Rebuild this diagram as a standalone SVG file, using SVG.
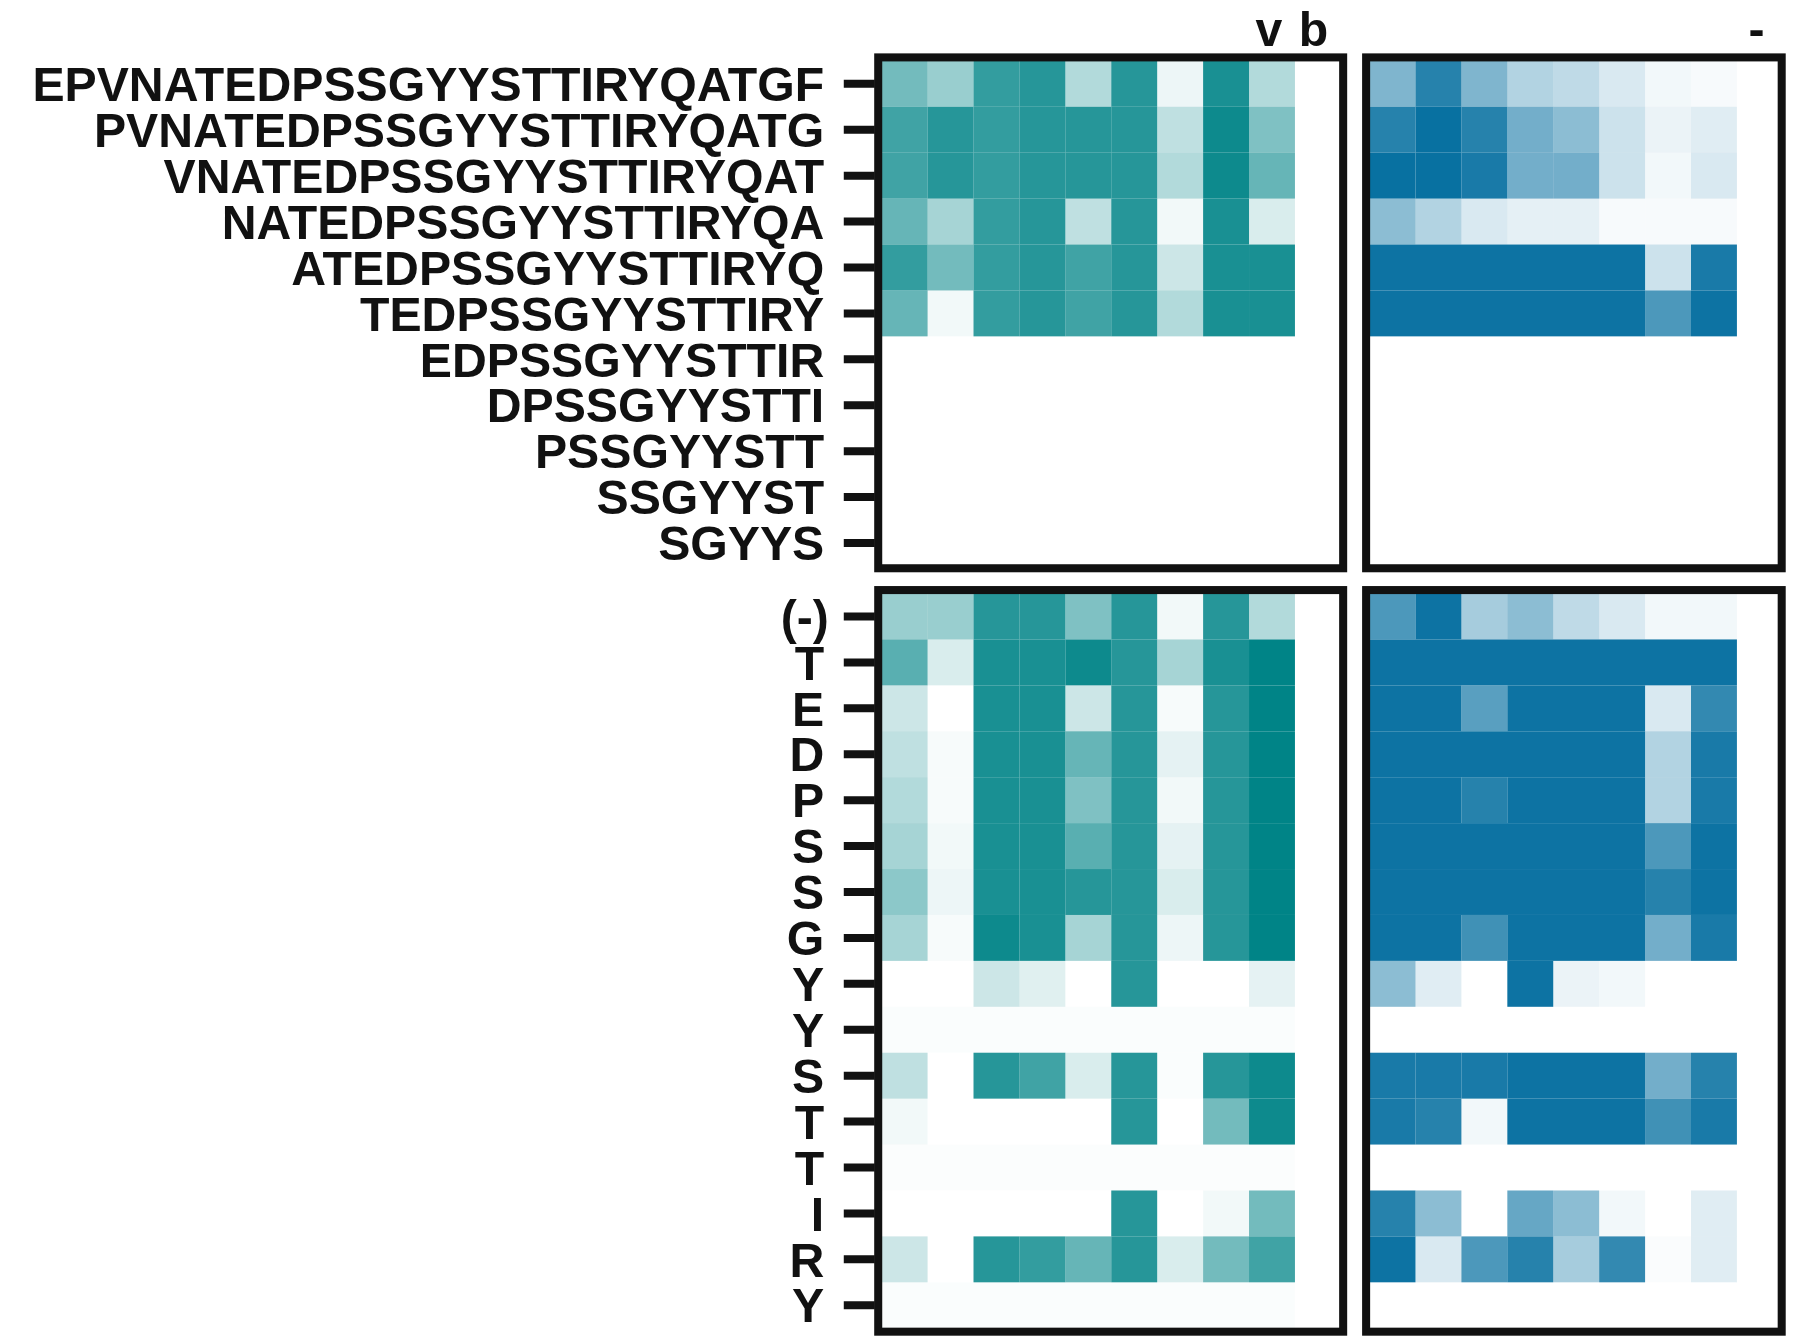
<svg xmlns="http://www.w3.org/2000/svg" width="1800" height="1344" viewBox="0 0 1800 1344">
<style>
.l{font-family:"Liberation Sans",Arial,sans-serif;font-weight:bold;font-size:42px;text-anchor:end;fill:#111}
.t{fill:#008487}.b{fill:#006c9e}
.box{fill:none;stroke:#111;stroke-width:7}
.tk{stroke:#111;stroke-width:7}
</style>
<rect width="1800" height="1344" fill="#fff"/>
<g transform="scale(1.148)">
<g id="tl">
<g class="t">
<rect x="768" y="53" width="40" height="40" fill-opacity=".55"/><rect x="808" y="53" width="40" height="40" fill-opacity=".4"/><rect x="848" y="53" width="40" height="40" fill-opacity=".8"/><rect x="888" y="53" width="40" height="40" fill-opacity=".85"/><rect x="928" y="53" width="40" height="40" fill-opacity=".3"/><rect x="968" y="53" width="40" height="40" fill-opacity=".85"/><rect x="1008" y="53" width="40" height="40" fill-opacity=".07"/><rect x="1048" y="53" width="40" height="40" fill-opacity=".9"/><rect x="1088" y="53" width="40" height="40" fill-opacity=".3"/>
<rect x="768" y="93" width="40" height="40" fill-opacity=".75"/><rect x="808" y="93" width="40" height="40" fill-opacity=".85"/><rect x="848" y="93" width="40" height="40" fill-opacity=".8"/><rect x="888" y="93" width="40" height="40" fill-opacity=".85"/><rect x="928" y="93" width="40" height="40" fill-opacity=".85"/><rect x="968" y="93" width="40" height="40" fill-opacity=".85"/><rect x="1008" y="93" width="40" height="40" fill-opacity=".25"/><rect x="1048" y="93" width="40" height="40" fill-opacity=".95"/><rect x="1088" y="93" width="40" height="40" fill-opacity=".5"/>
<rect x="768" y="133" width="40" height="40" fill-opacity=".75"/><rect x="808" y="133" width="40" height="40" fill-opacity=".85"/><rect x="848" y="133" width="40" height="40" fill-opacity=".8"/><rect x="888" y="133" width="40" height="40" fill-opacity=".85"/><rect x="928" y="133" width="40" height="40" fill-opacity=".85"/><rect x="968" y="133" width="40" height="40" fill-opacity=".85"/><rect x="1008" y="133" width="40" height="40" fill-opacity=".3"/><rect x="1048" y="133" width="40" height="40" fill-opacity=".95"/><rect x="1088" y="133" width="40" height="40" fill-opacity=".6"/>
<rect x="768" y="173" width="40" height="40" fill-opacity=".6"/><rect x="808" y="173" width="40" height="40" fill-opacity=".35"/><rect x="848" y="173" width="40" height="40" fill-opacity=".8"/><rect x="888" y="173" width="40" height="40" fill-opacity=".85"/><rect x="928" y="173" width="40" height="40" fill-opacity=".25"/><rect x="968" y="173" width="40" height="40" fill-opacity=".85"/><rect x="1008" y="173" width="40" height="40" fill-opacity=".05"/><rect x="1048" y="173" width="40" height="40" fill-opacity=".9"/><rect x="1088" y="173" width="40" height="40" fill-opacity=".15"/>
<rect x="768" y="213" width="40" height="40" fill-opacity=".8"/><rect x="808" y="213" width="40" height="40" fill-opacity=".55"/><rect x="848" y="213" width="40" height="40" fill-opacity=".8"/><rect x="888" y="213" width="40" height="40" fill-opacity=".85"/><rect x="928" y="213" width="40" height="40" fill-opacity=".75"/><rect x="968" y="213" width="40" height="40" fill-opacity=".85"/><rect x="1008" y="213" width="40" height="40" fill-opacity=".2"/><rect x="1048" y="213" width="40" height="40" fill-opacity=".9"/><rect x="1088" y="213" width="40" height="40" fill-opacity=".9"/>
<rect x="768" y="253" width="40" height="40" fill-opacity=".6"/><rect x="808" y="253" width="40" height="40" fill-opacity=".05"/><rect x="848" y="253" width="40" height="40" fill-opacity=".8"/><rect x="888" y="253" width="40" height="40" fill-opacity=".85"/><rect x="928" y="253" width="40" height="40" fill-opacity=".75"/><rect x="968" y="253" width="40" height="40" fill-opacity=".85"/><rect x="1008" y="253" width="40" height="40" fill-opacity=".3"/><rect x="1048" y="253" width="40" height="40" fill-opacity=".9"/><rect x="1088" y="253" width="40" height="40" fill-opacity=".9"/>
</g>
<rect class="box" x="765" y="50" width="405" height="445"/>
</g>
<g id="tr">
<g class="b">
<rect x="1193" y="53" width="40" height="40" fill-opacity=".5"/><rect x="1233" y="53" width="40" height="40" fill-opacity=".85"/><rect x="1273" y="53" width="40" height="40" fill-opacity=".5"/><rect x="1313" y="53" width="40" height="40" fill-opacity=".3"/><rect x="1353" y="53" width="40" height="40" fill-opacity=".25"/><rect x="1393" y="53" width="40" height="40" fill-opacity=".15"/><rect x="1433" y="53" width="40" height="40" fill-opacity=".05"/><rect x="1473" y="53" width="40" height="40" fill-opacity=".03"/>
<rect x="1193" y="93" width="40" height="40" fill-opacity=".85"/><rect x="1233" y="93" width="40" height="40" fill-opacity=".97"/><rect x="1273" y="93" width="40" height="40" fill-opacity=".85"/><rect x="1313" y="93" width="40" height="40" fill-opacity=".55"/><rect x="1353" y="93" width="40" height="40" fill-opacity=".45"/><rect x="1393" y="93" width="40" height="40" fill-opacity=".2"/><rect x="1433" y="93" width="40" height="40" fill-opacity=".08"/><rect x="1473" y="93" width="40" height="40" fill-opacity=".12"/>
<rect x="1193" y="133" width="40" height="40" fill-opacity=".97"/><rect x="1233" y="133" width="40" height="40" fill-opacity=".97"/><rect x="1273" y="133" width="40" height="40" fill-opacity=".9"/><rect x="1313" y="133" width="40" height="40" fill-opacity=".55"/><rect x="1353" y="133" width="40" height="40" fill-opacity=".55"/><rect x="1393" y="133" width="40" height="40" fill-opacity=".2"/><rect x="1433" y="133" width="40" height="40" fill-opacity=".05"/><rect x="1473" y="133" width="40" height="40" fill-opacity=".15"/>
<rect x="1193" y="173" width="40" height="40" fill-opacity=".45"/><rect x="1233" y="173" width="40" height="40" fill-opacity=".3"/><rect x="1273" y="173" width="40" height="40" fill-opacity=".15"/><rect x="1313" y="173" width="40" height="40" fill-opacity=".1"/><rect x="1353" y="173" width="40" height="40" fill-opacity=".1"/><rect x="1393" y="173" width="40" height="40" fill-opacity=".03"/><rect x="1433" y="173" width="40" height="40" fill-opacity=".03"/><rect x="1473" y="173" width="40" height="40" fill-opacity=".03"/>
<rect x="1193" y="213" width="240" height="40" fill-opacity=".95"/><rect x="1433" y="213" width="40" height="40" fill-opacity=".2"/><rect x="1473" y="213" width="40" height="40" fill-opacity=".9"/>
<rect x="1193" y="253" width="240" height="40" fill-opacity=".95"/><rect x="1433" y="253" width="40" height="40" fill-opacity=".7"/><rect x="1473" y="253" width="40" height="40" fill-opacity=".95"/>
</g>
<rect class="box" x="1190" y="50" width="362" height="445"/>
</g>
<g id="bl">
<g class="t">
<rect x="768" y="517" width="40" height="40" fill-opacity=".4"/><rect x="808" y="517" width="40" height="40" fill-opacity=".4"/><rect x="848" y="517" width="40" height="40" fill-opacity=".85"/><rect x="888" y="517" width="40" height="40" fill-opacity=".85"/><rect x="928" y="517" width="40" height="40" fill-opacity=".5"/><rect x="968" y="517" width="40" height="40" fill-opacity=".85"/><rect x="1008" y="517" width="40" height="40" fill-opacity=".05"/><rect x="1048" y="517" width="40" height="40" fill-opacity=".85"/><rect x="1088" y="517" width="40" height="40" fill-opacity=".3"/>
<rect x="768" y="557" width="40" height="40" fill-opacity=".65"/><rect x="808" y="557" width="40" height="40" fill-opacity=".15"/><rect x="848" y="557" width="40" height="40" fill-opacity=".9"/><rect x="888" y="557" width="40" height="40" fill-opacity=".9"/><rect x="928" y="557" width="40" height="40" fill-opacity=".95"/><rect x="968" y="557" width="40" height="40" fill-opacity=".85"/><rect x="1008" y="557" width="40" height="40" fill-opacity=".35"/><rect x="1048" y="557" width="40" height="40" fill-opacity=".9"/><rect x="1088" y="557" width="40" height="40" fill-opacity="1"/>
<rect x="768" y="597" width="40" height="40" fill-opacity=".2"/><rect x="848" y="597" width="40" height="40" fill-opacity=".9"/><rect x="888" y="597" width="40" height="40" fill-opacity=".9"/><rect x="928" y="597" width="40" height="40" fill-opacity=".2"/><rect x="968" y="597" width="40" height="40" fill-opacity=".85"/><rect x="1008" y="597" width="40" height="40" fill-opacity=".03"/><rect x="1048" y="597" width="40" height="40" fill-opacity=".85"/><rect x="1088" y="597" width="40" height="40" fill-opacity="1"/>
<rect x="768" y="637" width="40" height="40" fill-opacity=".25"/><rect x="808" y="637" width="40" height="40" fill-opacity=".03"/><rect x="848" y="637" width="40" height="40" fill-opacity=".9"/><rect x="888" y="637" width="40" height="40" fill-opacity=".9"/><rect x="928" y="637" width="40" height="40" fill-opacity=".6"/><rect x="968" y="637" width="40" height="40" fill-opacity=".85"/><rect x="1008" y="637" width="40" height="40" fill-opacity=".1"/><rect x="1048" y="637" width="40" height="40" fill-opacity=".85"/><rect x="1088" y="637" width="40" height="40" fill-opacity="1"/>
<rect x="768" y="677" width="40" height="40" fill-opacity=".3"/><rect x="808" y="677" width="40" height="40" fill-opacity=".03"/><rect x="848" y="677" width="40" height="40" fill-opacity=".9"/><rect x="888" y="677" width="40" height="40" fill-opacity=".9"/><rect x="928" y="677" width="40" height="40" fill-opacity=".5"/><rect x="968" y="677" width="40" height="40" fill-opacity=".85"/><rect x="1008" y="677" width="40" height="40" fill-opacity=".05"/><rect x="1048" y="677" width="40" height="40" fill-opacity=".85"/><rect x="1088" y="677" width="40" height="40" fill-opacity="1"/>
<rect x="768" y="717" width="40" height="40" fill-opacity=".35"/><rect x="808" y="717" width="40" height="40" fill-opacity=".05"/><rect x="848" y="717" width="40" height="40" fill-opacity=".9"/><rect x="888" y="717" width="40" height="40" fill-opacity=".9"/><rect x="928" y="717" width="40" height="40" fill-opacity=".65"/><rect x="968" y="717" width="40" height="40" fill-opacity=".85"/><rect x="1008" y="717" width="40" height="40" fill-opacity=".1"/><rect x="1048" y="717" width="40" height="40" fill-opacity=".85"/><rect x="1088" y="717" width="40" height="40" fill-opacity="1"/>
<rect x="768" y="757" width="40" height="40" fill-opacity=".45"/><rect x="808" y="757" width="40" height="40" fill-opacity=".07"/><rect x="848" y="757" width="40" height="40" fill-opacity=".9"/><rect x="888" y="757" width="40" height="40" fill-opacity=".9"/><rect x="928" y="757" width="40" height="40" fill-opacity=".85"/><rect x="968" y="757" width="40" height="40" fill-opacity=".85"/><rect x="1008" y="757" width="40" height="40" fill-opacity=".15"/><rect x="1048" y="757" width="40" height="40" fill-opacity=".85"/><rect x="1088" y="757" width="40" height="40" fill-opacity="1"/>
<rect x="768" y="797" width="40" height="40" fill-opacity=".35"/><rect x="808" y="797" width="40" height="40" fill-opacity=".03"/><rect x="848" y="797" width="40" height="40" fill-opacity=".95"/><rect x="888" y="797" width="40" height="40" fill-opacity=".9"/><rect x="928" y="797" width="40" height="40" fill-opacity=".35"/><rect x="968" y="797" width="40" height="40" fill-opacity=".85"/><rect x="1008" y="797" width="40" height="40" fill-opacity=".07"/><rect x="1048" y="797" width="40" height="40" fill-opacity=".85"/><rect x="1088" y="797" width="40" height="40" fill-opacity="1"/>
<rect x="848" y="837" width="40" height="40" fill-opacity=".2"/><rect x="888" y="837" width="40" height="40" fill-opacity=".12"/><rect x="968" y="837" width="40" height="40" fill-opacity=".85"/><rect x="1088" y="837" width="40" height="40" fill-opacity=".1"/>
<rect x="768" y="877" width="360" height="40" fill-opacity=".02"/>
<rect x="768" y="917" width="40" height="40" fill-opacity=".25"/><rect x="848" y="917" width="40" height="40" fill-opacity=".85"/><rect x="888" y="917" width="40" height="40" fill-opacity=".75"/><rect x="928" y="917" width="40" height="40" fill-opacity=".15"/><rect x="968" y="917" width="40" height="40" fill-opacity=".85"/><rect x="1008" y="917" width="40" height="40" fill-opacity=".02"/><rect x="1048" y="917" width="40" height="40" fill-opacity=".85"/><rect x="1088" y="917" width="40" height="40" fill-opacity=".95"/>
<rect x="768" y="957" width="40" height="40" fill-opacity=".05"/><rect x="968" y="957" width="40" height="40" fill-opacity=".85"/><rect x="1048" y="957" width="40" height="40" fill-opacity=".55"/><rect x="1088" y="957" width="40" height="40" fill-opacity=".95"/>
<rect x="768" y="997" width="360" height="40" fill-opacity=".015"/>
<rect x="968" y="1037" width="40" height="40" fill-opacity=".85"/><rect x="1048" y="1037" width="40" height="40" fill-opacity=".05"/><rect x="1088" y="1037" width="40" height="40" fill-opacity=".55"/>
<rect x="768" y="1077" width="40" height="40" fill-opacity=".2"/><rect x="848" y="1077" width="40" height="40" fill-opacity=".85"/><rect x="888" y="1077" width="40" height="40" fill-opacity=".8"/><rect x="928" y="1077" width="40" height="40" fill-opacity=".6"/><rect x="968" y="1077" width="40" height="40" fill-opacity=".85"/><rect x="1008" y="1077" width="40" height="40" fill-opacity=".15"/><rect x="1048" y="1077" width="40" height="40" fill-opacity=".55"/><rect x="1088" y="1077" width="40" height="40" fill-opacity=".75"/>
<rect x="768" y="1117" width="360" height="40" fill-opacity=".02"/>
</g>
<rect class="box" x="765" y="514" width="405" height="646"/>
</g>
<g id="br">
<g class="b">
<rect x="1193" y="517" width="40" height="40" fill-opacity=".7"/><rect x="1233" y="517" width="40" height="40" fill-opacity=".95"/><rect x="1273" y="517" width="40" height="40" fill-opacity=".35"/><rect x="1313" y="517" width="40" height="40" fill-opacity=".45"/><rect x="1353" y="517" width="40" height="40" fill-opacity=".25"/><rect x="1393" y="517" width="40" height="40" fill-opacity=".15"/><rect x="1433" y="517" width="40" height="40" fill-opacity=".05"/><rect x="1473" y="517" width="40" height="40" fill-opacity=".05"/>
<rect x="1193" y="557" width="320" height="40" fill-opacity=".95"/>
<rect x="1193" y="597" width="80" height="40" fill-opacity=".95"/><rect x="1273" y="597" width="40" height="40" fill-opacity=".65"/><rect x="1313" y="597" width="120" height="40" fill-opacity=".95"/><rect x="1433" y="597" width="40" height="40" fill-opacity=".15"/><rect x="1473" y="597" width="40" height="40" fill-opacity=".8"/>
<rect x="1193" y="637" width="240" height="40" fill-opacity=".95"/><rect x="1433" y="637" width="40" height="40" fill-opacity=".3"/><rect x="1473" y="637" width="40" height="40" fill-opacity=".9"/>
<rect x="1193" y="677" width="80" height="40" fill-opacity=".95"/><rect x="1273" y="677" width="40" height="40" fill-opacity=".85"/><rect x="1313" y="677" width="120" height="40" fill-opacity=".95"/><rect x="1433" y="677" width="40" height="40" fill-opacity=".3"/><rect x="1473" y="677" width="40" height="40" fill-opacity=".9"/>
<rect x="1193" y="717" width="240" height="40" fill-opacity=".95"/><rect x="1433" y="717" width="40" height="40" fill-opacity=".7"/><rect x="1473" y="717" width="40" height="40" fill-opacity=".95"/>
<rect x="1193" y="757" width="240" height="40" fill-opacity=".95"/><rect x="1433" y="757" width="40" height="40" fill-opacity=".85"/><rect x="1473" y="757" width="40" height="40" fill-opacity=".95"/>
<rect x="1193" y="797" width="80" height="40" fill-opacity=".95"/><rect x="1273" y="797" width="40" height="40" fill-opacity=".75"/><rect x="1313" y="797" width="120" height="40" fill-opacity=".95"/><rect x="1433" y="797" width="40" height="40" fill-opacity=".55"/><rect x="1473" y="797" width="40" height="40" fill-opacity=".9"/>
<rect x="1193" y="837" width="40" height="40" fill-opacity=".45"/><rect x="1233" y="837" width="40" height="40" fill-opacity=".12"/><rect x="1313" y="837" width="40" height="40" fill-opacity=".95"/><rect x="1353" y="837" width="40" height="40" fill-opacity=".08"/><rect x="1393" y="837" width="40" height="40" fill-opacity=".05"/>
<rect x="1193" y="917" width="40" height="40" fill-opacity=".9"/><rect x="1233" y="917" width="40" height="40" fill-opacity=".9"/><rect x="1273" y="917" width="40" height="40" fill-opacity=".9"/><rect x="1313" y="917" width="120" height="40" fill-opacity=".95"/><rect x="1433" y="917" width="40" height="40" fill-opacity=".55"/><rect x="1473" y="917" width="40" height="40" fill-opacity=".85"/>
<rect x="1193" y="957" width="40" height="40" fill-opacity=".9"/><rect x="1233" y="957" width="40" height="40" fill-opacity=".85"/><rect x="1273" y="957" width="40" height="40" fill-opacity=".05"/><rect x="1313" y="957" width="120" height="40" fill-opacity=".95"/><rect x="1433" y="957" width="40" height="40" fill-opacity=".75"/><rect x="1473" y="957" width="40" height="40" fill-opacity=".9"/>
<rect x="1193" y="1037" width="40" height="40" fill-opacity=".85"/><rect x="1233" y="1037" width="40" height="40" fill-opacity=".45"/><rect x="1313" y="1037" width="40" height="40" fill-opacity=".6"/><rect x="1353" y="1037" width="40" height="40" fill-opacity=".45"/><rect x="1393" y="1037" width="40" height="40" fill-opacity=".05"/><rect x="1473" y="1037" width="40" height="40" fill-opacity=".12"/>
<rect x="1193" y="1077" width="40" height="40" fill-opacity=".95"/><rect x="1233" y="1077" width="40" height="40" fill-opacity=".15"/><rect x="1273" y="1077" width="40" height="40" fill-opacity=".7"/><rect x="1313" y="1077" width="40" height="40" fill-opacity=".85"/><rect x="1353" y="1077" width="40" height="40" fill-opacity=".35"/><rect x="1393" y="1077" width="40" height="40" fill-opacity=".8"/><rect x="1433" y="1077" width="40" height="40" fill-opacity=".02"/><rect x="1473" y="1077" width="40" height="40" fill-opacity=".12"/>
</g>
<rect class="box" x="1190" y="514" width="362" height="646"/>
</g>
<g id="ticks" class="tk">
<path d="M735 73H762M735 113H762M735 153H762M735 193H762M735 233H762M735 273H762M735 313H762M735 353H762M735 393H762M735 433H762M735 473H762"/>
<path d="M735 537H762M735 577H762M735 617H762M735 657H762M735 697H762M735 737H762M735 777H762M735 817H762M735 857H762M735 897H762M735 937H762M735 977H762M735 1017H762M735 1057H762M735 1097H762M735 1137H762"/>
</g>
<g id="labels" class="l">
<text x="718" y="88">EPVNATEDPSSGYYSTTIRYQATGF</text>
<text x="718" y="128">PVNATEDPSSGYYSTTIRYQATG</text>
<text x="718" y="168">VNATEDPSSGYYSTTIRYQAT</text>
<text x="718" y="208">NATEDPSSGYYSTTIRYQA</text>
<text x="718" y="248">ATEDPSSGYYSTTIRYQ</text>
<text x="718" y="288">TEDPSSGYYSTTIRY</text>
<text x="718" y="328">EDPSSGYYSTTIR</text>
<text x="718" y="368">DPSSGYYSTTI</text>
<text x="718" y="408">PSSGYYSTT</text>
<text x="718" y="448">SSGYYST</text>
<text x="718" y="488">SGYYS</text>
<text x="722" y="552">(-)</text>
<text x="718" y="592">T</text><text x="718" y="632">E</text><text x="718" y="672">D</text><text x="718" y="712">P</text><text x="718" y="752">S</text><text x="718" y="792">S</text><text x="718" y="832">G</text><text x="718" y="872">Y</text><text x="718" y="912">Y</text><text x="718" y="952">S</text><text x="718" y="992">T</text><text x="718" y="1032">T</text><text x="718" y="1072">I</text><text x="718" y="1112">R</text><text x="718" y="1152">Y</text>
<text x="1117" y="40">v</text><text x="1157" y="40">b</text><text x="1537" y="40">-</text>
</g>
</g>
</svg>
